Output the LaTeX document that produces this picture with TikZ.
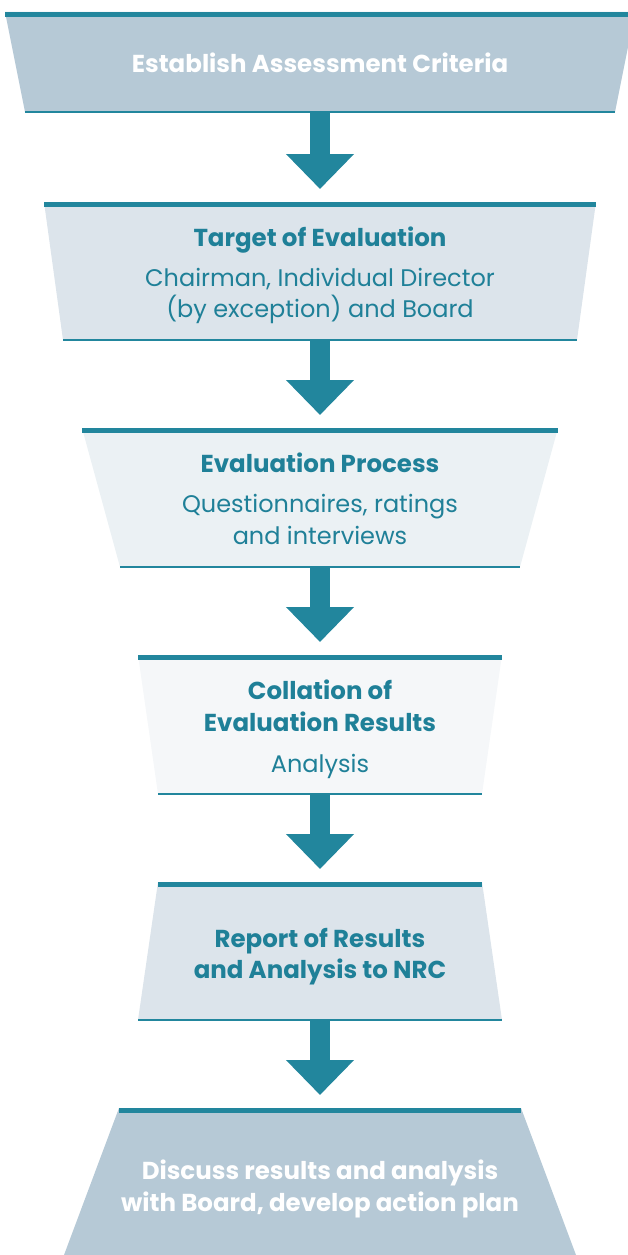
\documentclass[tikz,border=0pt]{standalone}
\usepackage{fontspec}
\setmainfont{Poppins}
\usetikzlibrary{arrows.meta}
\definecolor{tealc}{HTML}{22869D}
\definecolor{texc}{HTML}{1F8098}
\definecolor{fillA}{HTML}{B6C9D6}
\definecolor{fillB}{HTML}{DCE4EB}
\definecolor{fillC}{HTML}{EBF1F4}
\definecolor{fillD}{HTML}{F5F7F9}
\newcommand\flowbox[6]{%
  \fill[#6] (320-#4,#2) -- (320+#4,#2) -- (320+#5,#3) -- (320-#5,#3) -- cycle;
  \fill[tealc] (320-#4,#2) rectangle (320+#4,#2+5);
  \coordinate (#1t) at (320,#2);
  \coordinate (#1b) at (320,#3);
}
\newcommand\flowline[3]{\draw[tealc, line width=1.5pt] (320-#2,#1) -- (320+#2,#1);}
\tikzset{
  bigarrow/.style={draw=tealc, line width=20pt, -{Triangle[length=35pt,width=66pt]}, shorten >=13pt},
  whitetitle/.style={anchor=base, text=white, font=\fontsize{24.5}{28}\selectfont\bfseries, inner sep=0pt},
  tealtitle/.style={anchor=base, text=texc, font=\fontsize{24.5}{28}\selectfont\bfseries, inner sep=0pt},
  tealbody/.style={anchor=base, text=texc, font=\fontsize{24}{28}\selectfont, inner sep=0pt},
}
\begin{document}
\begin{tikzpicture}[x=1pt,y=-1pt]
\useasboundingbox (0,0) rectangle (628,1255);
\clip (0,0) rectangle (628,1255);
\flowbox{b1}{12}{112}{315}{295}{fillA}
\flowline{112}{295}{}
\flowbox{b2}{202}{340}{276}{257}{fillB}
\flowline{340}{257}{}
\flowbox{b3}{428}{567}{238}{200}{fillC}
\flowline{567}{200}{}
\flowbox{b4}{655}{794}{182}{162}{fillD}
\flowline{794}{162}{}
\flowbox{b5}{882}{1020}{162}{182}{fillB}
\flowline{1020}{182}{}
\flowbox{b6}{1108}{1255}{201}{256}{fillA}

\draw[bigarrow] (b1b) -- (b2t);
\draw[bigarrow] (b2b) -- (b3t);
\draw[bigarrow] (b3b) -- (b4t);
\draw[bigarrow] (b4b) -- (b5t);
\draw[bigarrow] (b5b) -- (b6t);

\node[whitetitle] (t1) at (320,73) {Establish Assessment Criteria};
\node[tealtitle] (t2) at (320,246) {Target of Evaluation};
\node[tealbody] (t2a) at (320,286) {Chairman, Individual Director};
\node[tealbody] (t2b) at (320,317) {(by exception) and Board};
\node[tealtitle] (t3) at (320,472) {Evaluation Process};
\node[tealbody] (t3a) at (320,512) {Questionnaires, ratings};
\node[tealbody] (t3b) at (320,544) {and interviews};
\node[tealtitle] (t4) at (320,699) {Collation of};
\node[tealtitle] (t4a) at (320,731) {Evaluation Results};
\node[tealbody] (t4b) at (320,772) {Analysis};
\node[tealtitle] (t5) at (320,947) {Report of Results};
\node[tealtitle] (t5a) at (320,978) {and Analysis to NRC};
\node[whitetitle] (t6) at (320,1179) {Discuss results and analysis};
\node[whitetitle] (t6a) at (320,1211) {with Board, develop action plan};
\end{tikzpicture}
\end{document}
